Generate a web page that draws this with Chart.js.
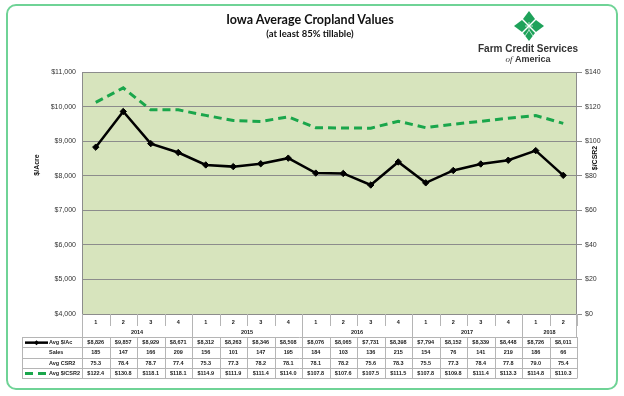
<!DOCTYPE html>
<html>
<head>
<meta charset="utf-8">
<script src="https://cdn.jsdelivr.net/npm/chart.js@4"></script>
<style>
  body { margin:0; background:#fff; }
  #wrap { position:relative; width:624px; height:396px; overflow:hidden; }
  #chart { position:absolute; left:0; top:0; }
  .frame { position:absolute; left:6px; top:4px; width:612px; height:386px; border:2px solid #6fd396; border-radius:10px; box-sizing:border-box; }
  .title { position:absolute; left:0; width:620px; text-align:center; font-family:Lato, "Liberation Sans", sans-serif; font-weight:bold; color:#111; }
  #logo { position:absolute; left:513px; top:10px; }
  .brand { position:absolute; left:468px; width:120px; text-align:center; white-space:nowrap; font-family:"Liberation Sans Narrow","Liberation Sans",sans-serif; color:#333; }
</style>
</head>
<body>
<div id="wrap">
  <div class="frame"></div>
  <canvas id="chart" width="624" height="396"></canvas>
  <div class="title" style="top:12px;font-size:12.5px;">Iowa Average Cropland Values</div>
  <div class="title" style="top:28px;font-size:9.5px;">(at least 85% tillable)</div>
  <svg id="logo" width="32" height="32" viewBox="-16 -16 32 32">
    <g fill="#1ea25a">
      <path d="M0 -1 L-6 -7 L0 -15 L6 -7 Z"/>
      <path d="M0 1 L-6 7 L0 15 L6 7 Z"/>
      <path d="M-1 0 L-7 -6 L-15 0 L-7 6 Z"/>
      <path d="M1 0 L7 -6 L15 0 L7 6 Z"/>
    </g>
    <g stroke="#fff" stroke-width="0.7">
      <line x1="0" y1="-4" x2="0" y2="4"/><line x1="-4" y1="0" x2="4" y2="0"/>
      <line x1="-3" y1="-3" x2="3" y2="3"/><line x1="-3" y1="3" x2="3" y2="-3"/>
      <line x1="0" y1="4" x2="-4" y2="10"/><line x1="0" y1="4" x2="4" y2="10"/>
    </g>
  </svg>
  <div class="brand" style="top:43px;font-size:10px;font-weight:bold;">Farm Credit Services</div>
  <div class="brand" style="top:54px;font-size:9px;"><i style="font-family:'Liberation Serif',serif;">of</i> <b>America</b></div>
</div>
<script>
// periods
const quarters = ['1','2','3','4','1','2','3','4','1','2','3','4','1','2','3','4','1','2'];
const years = ['2014','2015','2016','2017','2018'];
const yearSpan = [4, 4, 4, 4, 2];

// series
const avgPerAcre = [8826, 9857, 8929, 8671, 8312, 8263, 8346, 8508, 8076, 8065, 7731, 8398, 7794, 8152, 8339, 8448, 8726, 8011];
const sales = [185, 147, 166, 209, 156, 101, 147, 195, 184, 103, 136, 215, 154, 76, 141, 219, 186, 66];
const avgCsr2 = ['75.3','78.4','78.7','77.4','75.3','77.3','78.2','78.1','78.1','78.2','75.6','78.3','75.5','77.3','78.4','77.8','79.0','75.4'];
const perCsr2 = [122.4, 130.8, 118.1, 118.1, 114.9, 111.9, 111.4, 114.0, 107.8, 107.6, 107.5, 111.5, 107.8, 109.8, 111.4, 113.3, 114.8, 110.3];

const GREEN = '#1aa64b';
const GRID = '#8c8c8c';
const TBL = '#b5b5b5';
const SMALL = 'bold 5.5px "Liberation Sans Narrow", "Liberation Sans", sans-serif';

function money(v){ return '$' + v.toLocaleString('en-US'); }

const tablePlugin = {
  id: 'dataTable',
  beforeDraw(chart){
    const a = chart.chartArea, ctx = chart.ctx;
    ctx.save();
    ctx.fillStyle = '#d7e4bd';
    ctx.fillRect(a.left, a.top, a.right - a.left, a.bottom - a.top);
    ctx.restore();
  },
  afterDraw(chart){
    const a = chart.chartArea, ctx = chart.ctx;
    const n = quarters.length;
    const colW = (a.right - a.left) / n;
    ctx.save();
    // plot border
    ctx.strokeStyle = GRID; ctx.lineWidth = 1;
    ctx.strokeRect(a.left + 0.5, a.top + 0.5, a.right - a.left - 1, a.bottom - a.top);

    // axis titles
    ctx.fillStyle = '#111';
    ctx.font = 'bold 7px "Liberation Sans", sans-serif';
    ctx.textAlign = 'center'; ctx.textBaseline = 'middle';
    ctx.save(); ctx.translate(37, 165); ctx.rotate(-Math.PI/2); ctx.fillText('$/Acre', 0, 0); ctx.restore();
    ctx.save(); ctx.translate(595, 158); ctx.rotate(-Math.PI/2); ctx.fillText('$/CSR2', 0, 0); ctx.restore();

    // category header: quarter and year
    const top = a.bottom;
    const qBottom = top + 15, yBottom = top + 23;
    ctx.strokeStyle = TBL;
    ctx.font = SMALL; ctx.fillStyle = '#1a1a1a';
    for (let i = 0; i <= n; i++) {
      const x = Math.round(a.left + i * colW) + 0.5;
      ctx.beginPath(); ctx.moveTo(x, top); ctx.lineTo(x, qBottom - 3); ctx.stroke();
    }
    quarters.forEach((q, i) => ctx.fillText(q, a.left + (i + 0.5) * colW, top + 8));
    let c = 0;
    years.forEach((y, k) => {
      const x0 = a.left + c * colW;
      const x = Math.round(x0) + 0.5;
      ctx.beginPath(); ctx.moveTo(x, top); ctx.lineTo(x, yBottom); ctx.stroke();
      ctx.fillText(y, x0 + yearSpan[k] * colW / 2, top + 18.5);
      c += yearSpan[k];
    });
    const xe = Math.round(a.right) - 0.5;
    ctx.beginPath(); ctx.moveTo(xe, top); ctx.lineTo(xe, yBottom); ctx.stroke();

    // data rows
    const rows = [
      { label: 'Avg $/Ac', vals: avgPerAcre.map(money) },
      { label: 'Sales', vals: sales.map(String) },
      { label: 'Avg CSR2', vals: avgCsr2 },
      { label: 'Avg $/CSR2', vals: perCsr2.map(v => '$' + v.toFixed(1)) }
    ];
    const rowH = 10.3, left = 22;
    const y0 = yBottom;
    for (let r = 0; r <= rows.length; r++) {
      const y = Math.round(y0 + r * rowH) + 0.5;
      ctx.beginPath(); ctx.moveTo(left, y); ctx.lineTo(a.right, y); ctx.stroke();
    }
    const yEnd = Math.round(y0 + rows.length * rowH) + 0.5;
    [left + 0.5].concat(Array.from({length: n + 1}, (_, i) => Math.round(a.left + i * colW) + 0.5)).forEach(x => {
      ctx.beginPath(); ctx.moveTo(x, y0); ctx.lineTo(x, yEnd); ctx.stroke();
    });
    rows.forEach((row, r) => {
      const cy = y0 + (r + 0.5) * rowH + 0.5;
      ctx.textAlign = 'left';
      ctx.fillText(row.label, 49, cy);
      ctx.textAlign = 'center';
      row.vals.forEach((v, i) => ctx.fillText(v, a.left + (i + 0.5) * colW, cy));
    });

    // legend keys
    let ky = y0 + 0.5 * rowH + 0.5;
    ctx.strokeStyle = '#000'; ctx.lineWidth = 2.5;
    ctx.beginPath(); ctx.moveTo(25, ky); ctx.lineTo(48, ky); ctx.stroke();
    ctx.fillStyle = '#000';
    ctx.beginPath(); ctx.moveTo(36.5, ky - 2.5); ctx.lineTo(39, ky); ctx.lineTo(36.5, ky + 2.5); ctx.lineTo(34, ky); ctx.closePath(); ctx.fill();
    ky = y0 + 3.5 * rowH + 0.5;
    ctx.strokeStyle = GREEN; ctx.lineWidth = 3; ctx.setLineDash([8, 5]);
    ctx.beginPath(); ctx.moveTo(25, ky); ctx.lineTo(48, ky); ctx.stroke();
    ctx.restore();
  }
};

new Chart(document.getElementById('chart'), {
  type: 'line',
  data: {
    labels: quarters,
    datasets: [
      {
        label: 'Avg $/Ac', data: avgPerAcre, yAxisID: 'y',
        borderColor: '#000', backgroundColor: '#000', borderWidth: 2.5,
        pointStyle: 'rectRot', pointRadius: 3.2, pointBorderWidth: 1, tension: 0
      },
      {
        label: 'Avg $/CSR2', data: perCsr2, yAxisID: 'y2',
        borderColor: GREEN, borderWidth: 3, borderDash: [8, 5],
        pointRadius: 0, tension: 0
      }
    ]
  },
  options: {
    responsive: false,
    animation: false,
    devicePixelRatio: 1,
    layout: { padding: { left: 0, right: 0, top: 72, bottom: 82 } },
    plugins: { legend: { display: false }, title: { display: false }, tooltip: { enabled: false } },
    scales: {
      x: { display: false, offset: true },
      y: {
        position: 'left', min: 4000, max: 11000,
        afterFit(s){ s.width = 82; },
        border: { display: false },
        grid: { color: GRID, drawTicks: false },
        ticks: { stepSize: 1000, padding: 6, color: '#333', font: { family: 'Liberation Sans', size: 7 }, callback: v => money(v) }
      },
      y2: {
        position: 'right', min: 0, max: 140,
        afterFit(s){ s.width = 47; },
        border: { display: false },
        grid: { drawOnChartArea: false, color: GRID, tickLength: 5 },
        ticks: { stepSize: 20, padding: 3, color: '#333', font: { family: 'Liberation Sans', size: 7 }, callback: v => '$' + v }
      }
    }
  },
  plugins: [tablePlugin]
});
</script>
</body>
</html>
